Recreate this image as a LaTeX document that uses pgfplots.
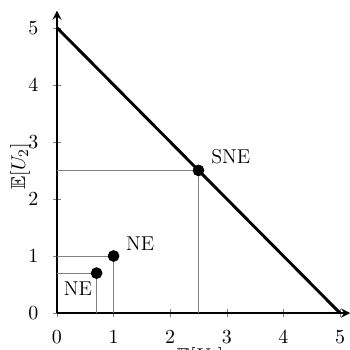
\documentclass[border=0pt]{standalone}
\usepackage{amssymb}
\usepackage{pgfplots}
\pgfplotsset{compat=1.18}
\begin{document}
\begin{tikzpicture}[font=\fontsize{11}{13.6}\selectfont]
\begin{axis}[
  x=31.1pt, y=31.35pt,
  axis lines=left,
  axis line style={very thick},
  tick align=center,
  xmin=0, xmax=5.18, ymin=0, ymax=5.3,
  xtick={0,1,2,3,4,5}, ytick={0,1,2,3,4,5},
  xticklabel style={yshift=-4.2pt},
  yticklabel style={xshift=-4.6pt},
  xlabel={$\mathbb{E}[U_1]$}, ylabel={$\mathbb{E}[U_2]$},
  xlabel style={at={(axis cs:2.53,-0.5)}, anchor=north},
  ylabel style={at={(axis cs:-0.65,2.57)}, anchor=center},
  clip=false,
]
  % guide lines to the equilibrium payoffs
  \addplot[gray, line width=0.4pt] coordinates {(0,2.5) (2.5,2.5) (2.5,0)};
  \addplot[gray, line width=0.4pt] coordinates {(0,1) (1,1) (1,0)};
  \addplot[gray, line width=0.4pt] coordinates {(0,0.7) (0.7,0.7) (0.7,0)};
  % Pareto frontier
  \addplot[black, ultra thick] coordinates {(0,5) (5,0)};
  % equilibria
  \addplot[only marks, mark=*, mark size=3pt, black] coordinates {(0.7,0.7) (1,1) (2.5,2.5)};
  \node at (axis cs:3.07,2.74) {SNE};
  \node at (axis cs:1.47,1.22) {NE};
  \node at (axis cs:0.37,0.42) {NE};
  \coordinate (o) at (axis cs:0,0);
\end{axis}
\pgfresetboundingbox
\path[use as bounding box] ([shift={(-31.3pt,-19.8pt)}]o) rectangle ([shift={(161.0pt,172.0pt)}]o);
\end{tikzpicture}
\end{document}
